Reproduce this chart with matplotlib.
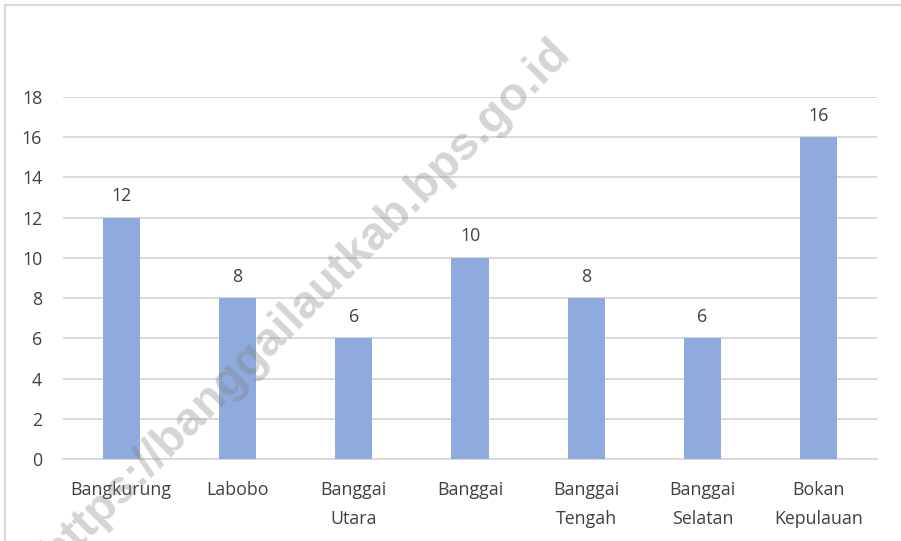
import matplotlib
matplotlib.use("Agg")
import matplotlib.pyplot as plt
from matplotlib.lines import Line2D

categories = ["Bangkurung", "Labobo", "Banggai\nUtara", "Banggai",
              "Banggai\nTengah", "Banggai\nSelatan", "Bokan\nKepulauan"]
values = [12, 8, 6, 10, 8, 6, 16]
yticks = [0, 2, 4, 6, 8, 10, 12, 14, 16, 18]

plt.rcParams['font.family'] = ['Open Sans', 'DejaVu Sans']
text_color = "#404040"
fs = 12.8

fig = plt.figure(figsize=(9.01, 5.41), dpi=100)
ax = fig.add_axes([63/901, 1-459/541, (877-63)/901, (459-97)/541])

x = list(range(len(categories)))
bars = ax.bar(x, values, width=0.32, color="#8FAADC", zorder=3)
for xi, v in zip(x, values):
    ax.annotate(str(v), (xi, v), xytext=(0, 9), textcoords="offset points",
                ha="center", va="bottom", fontsize=fs, color=text_color)

ax.set_xlim(-0.5, len(categories) - 0.5)
ax.set_ylim(0, 18)
ax.set_yticks(yticks)
ax.set_yticklabels([str(t) for t in yticks], fontsize=fs, color=text_color)
ax.set_xticks(x)
ax.set_xticklabels(categories, fontsize=fs, color=text_color, linespacing=1.75)
ax.tick_params(axis="both", length=0)
ax.tick_params(axis="y", pad=15)
ax.tick_params(axis="x", pad=16)
ax.grid(axis="y", color="#D9D9D9", linewidth=1.4, zorder=0)
for s in ["top", "right", "left"]:
    ax.spines[s].set_visible(False)
ax.spines["bottom"].set_color("#D9D9D9")
ax.spines["bottom"].set_linewidth(1.4)
ax.spines["bottom"].set_zorder(2)

# chart border (left and top)
fig.add_artist(Line2D([5/901, 5/901], [0, 1-5/541], color="#D9D9D9", lw=1.5,
                      transform=fig.transFigure))
fig.add_artist(Line2D([5/901, 1], [1-5/541, 1-5/541], color="#D9D9D9", lw=1.5,
                      transform=fig.transFigure))

# watermark
fig.text(306/901, 1-302/541, "https://banggailautkab.bps.go.id", fontsize=34,
         fontweight="bold", family=["Liberation Sans", "DejaVu Sans"],
         color="#808080", alpha=0.33, rotation=45, ha="center", va="center",
         rotation_mode="anchor", zorder=10)

fig.savefig("out.png", dpi=100)
